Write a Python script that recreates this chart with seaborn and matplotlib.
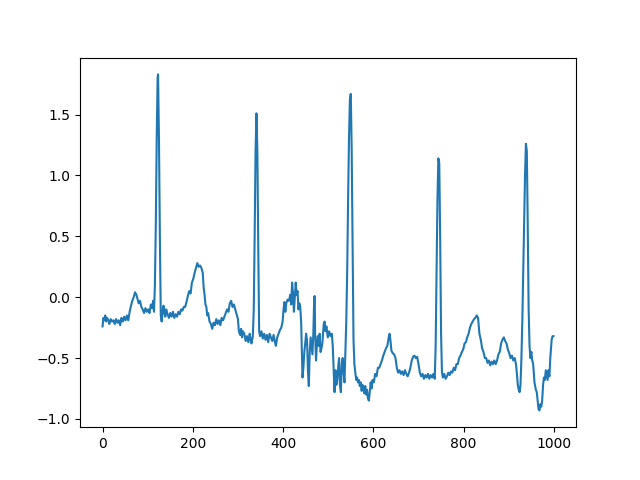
import matplotlib
matplotlib.use("Agg")
import matplotlib.pyplot as plt
import seaborn as sns

# sample index / amplitude
sample = [0, 2, 4, 6, 8, 10, 13, 15, 18, 21, 24, 27, 30, 33, 36, 39, 42, 45, 48, 51,
          54, 57, 60, 63, 66, 69, 72, 75, 78, 80, 83, 86, 89, 92, 95, 98, 101, 104, 107, 110,
          112, 114, 116, 118, 120, 122, 123, 125, 127, 129, 131, 133, 135, 137, 139, 141, 144, 147, 150,
          153, 156, 159, 162, 165, 168, 171, 174, 177, 180, 183, 186, 189, 192, 195, 198, 201, 204, 207, 210,
          213, 216, 219, 222, 224, 226, 228, 230, 232, 234, 237, 240, 243, 246, 249, 252, 255, 258, 261, 264,
          267, 270, 273, 276, 279, 282, 285, 288, 291, 294, 297, 300, 302, 305, 307, 309, 311, 314, 317, 320,
          323, 326, 328, 330,
          333, 335, 337, 339, 341, 343, 345, 347, 349, 352, 355, 358, 361, 364, 367, 370, 373, 376, 379, 382,
          384, 387, 390, 393, 396, 399, 401, 403, 405, 407, 410, 413, 416, 418, 420, 422, 424, 426, 428, 430,
          432, 434, 436, 438, 440, 442, 443, 445, 447, 449, 451, 453, 455, 457, 459, 461, 463, 465, 467, 469,
          470, 471, 473, 475, 477, 479, 481, 483, 485, 487, 490, 492, 494, 496, 499, 502, 505, 508, 510, 512,
          514, 516, 518, 520, 522, 524, 526, 528, 530, 532, 534, 536, 538, 540, 542, 544, 546, 548, 550, 552,
          554, 556, 558, 560, 562, 564, 566, 568, 570, 572, 574, 576, 578, 580, 582, 584, 586, 588, 590, 592,
          594, 596, 598, 601, 604, 607, 610, 613, 616, 619, 622, 625, 628, 631, 634, 636, 638, 640, 643, 646,
          649, 652, 655, 658, 661, 664, 667, 670, 673, 676, 679, 682, 685, 688, 691, 694, 697, 700, 703, 706,
          709, 712, 715, 718, 721, 724, 727, 730, 733, 736, 738, 740, 742, 744, 746, 748, 750, 752, 754, 757,
          760, 763, 766, 769, 772, 775, 778, 781, 784, 787, 790, 793, 796, 799, 802, 805, 808, 811, 814, 817,
          820, 823, 826, 829, 832, 835, 838, 841, 844, 847, 850, 853, 856, 859, 862, 865, 868, 871, 874, 877,
          880, 883, 886, 889, 892, 895, 898, 901, 904, 907, 910, 913, 916, 918, 920, 922, 924, 926, 928, 930,
          933, 936, 938, 940, 942, 944, 946, 948, 950, 952, 954, 957, 960, 962, 964, 966, 968, 970, 972, 974,
          976, 978, 980, 982, 984, 986, 988, 990, 992, 995, 997, 999]

signal = [-0.24, -0.17, -0.19, -0.15, -0.20, -0.17, -0.19, -0.22, -0.18, -0.20, -0.19, -0.22, -0.18, -0.21, -0.19, -0.23, -0.17, -0.20, -0.16, -0.19,
          -0.15, -0.19, -0.12, -0.07, -0.03, 0.00, 0.04, 0.02, -0.02, -0.05, -0.03, -0.08, -0.10, -0.13, -0.09, -0.12, -0.10, -0.13, -0.06, -0.09,
          -0.03, -0.12, 0.10, 0.60, 1.30, 1.80, 1.83, 1.30, 0.50, -0.15, -0.20, -0.12, -0.07, -0.13, -0.16, -0.10, -0.14, -0.17, -0.13,
          -0.16, -0.12, -0.17, -0.14, -0.16, -0.12, -0.14, -0.10, -0.11, -0.08, -0.08, -0.04, 0.01, 0.05, 0.03, 0.12, 0.15, 0.20, 0.24, 0.28,
          0.25, 0.26, 0.24, 0.20, 0.08, 0.02, -0.06, -0.08, -0.15, -0.13, -0.20, -0.22, -0.26, -0.21, -0.23, -0.18, -0.22, -0.19, -0.23, -0.17,
          -0.19, -0.16, -0.13, -0.10, -0.12, -0.05, -0.03, -0.08, -0.06, -0.10, -0.14, -0.18, -0.28, -0.31, -0.26, -0.33, -0.28, -0.30, -0.36, -0.32,
          -0.37, -0.30, -0.35, -0.38,
          -0.32, -0.10, 0.50, 1.20, 1.51, 1.20, 0.40, -0.28, -0.32, -0.28, -0.34, -0.30, -0.35, -0.31, -0.37, -0.30, -0.33, -0.36, -0.31, -0.37,
          -0.40, -0.33, -0.30, -0.27, -0.25, -0.20, -0.10, -0.04, -0.12, -0.05, -0.02, -0.03, 0.02, -0.06, 0.12, 0.03, -0.12, 0.00, 0.12, 0.02,
          0.05, -0.10, -0.05, -0.08, -0.20, -0.50, -0.66, -0.58, -0.45, -0.38, -0.30, -0.35, -0.60, -0.73, -0.45, -0.33, -0.40, -0.47, -0.30, 0.00,
          0.01, -0.30, -0.52, -0.38, -0.32, -0.40, -0.30, -0.45, -0.42, -0.38, -0.22, -0.20, -0.28, -0.24, -0.33, -0.28, -0.32, -0.30, -0.40, -0.60,
          -0.78, -0.60, -0.72, -0.68, -0.58, -0.50, -0.72, -0.78, -0.55, -0.50, -0.62, -0.70, -0.45, -0.20, 0.20, 0.80, 1.30, 1.62, 1.67, 1.20,
          0.40, -0.35, -0.55, -0.62, -0.68, -0.66, -0.70, -0.68, -0.73, -0.70, -0.77, -0.72, -0.75, -0.79, -0.73, -0.80, -0.76, -0.83, -0.85, -0.78,
          -0.70, -0.75, -0.68, -0.70, -0.63, -0.65, -0.58, -0.58, -0.55, -0.52, -0.48, -0.45, -0.42, -0.40, -0.33, -0.30, -0.36, -0.44, -0.46, -0.47,
          -0.50, -0.58, -0.62, -0.60, -0.63, -0.61, -0.64, -0.60, -0.63, -0.65, -0.62, -0.58, -0.52, -0.49, -0.48, -0.50, -0.49, -0.55, -0.62, -0.65,
          -0.63, -0.67, -0.64, -0.66, -0.63, -0.67, -0.64, -0.66, -0.63, -0.67, -0.40, 0.20, 0.80, 1.14, 1.10, 0.50, -0.30, -0.62, -0.66, -0.63,
          -0.67, -0.65, -0.62, -0.64, -0.61, -0.62, -0.58, -0.60, -0.55, -0.55, -0.50, -0.48, -0.45, -0.43, -0.38, -0.37, -0.33, -0.30, -0.25, -0.22,
          -0.20, -0.18, -0.17, -0.15, -0.17, -0.30, -0.35, -0.42, -0.45, -0.50, -0.50, -0.54, -0.52, -0.56, -0.53, -0.55, -0.52, -0.55, -0.52, -0.47,
          -0.45, -0.38, -0.35, -0.33, -0.36, -0.38, -0.43, -0.46, -0.50, -0.48, -0.52, -0.50, -0.55, -0.63, -0.72, -0.76, -0.78, -0.72, -0.50, -0.20,
          0.40, 1.00, 1.26, 1.20, 0.60, -0.10, -0.40, -0.50, -0.45, -0.52, -0.55, -0.70, -0.76, -0.78, -0.85, -0.92, -0.93, -0.88, -0.90, -0.85,
          -0.72, -0.66, -0.68, -0.60, -0.64, -0.68, -0.60, -0.65, -0.50, -0.35, -0.32, -0.32]

fig, ax = plt.subplots(figsize=(6.4, 4.8), dpi=100)
sns.lineplot(x=sample, y=signal, ax=ax, color="#1f77b4", linewidth=1.5)
ax.set_xlabel("")
ax.set_ylabel("")

plt.savefig("out.png")
